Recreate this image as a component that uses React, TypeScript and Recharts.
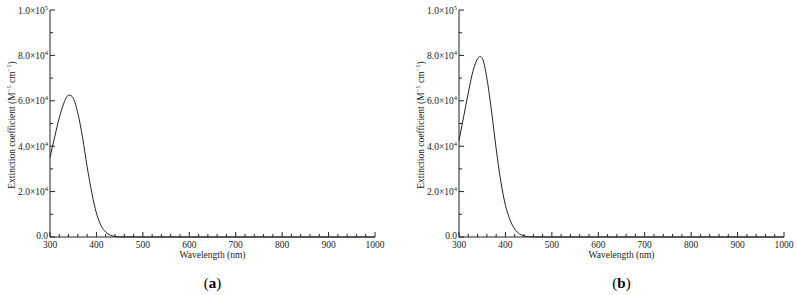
import React from 'react';
import { LineChart, Line, XAxis, YAxis } from 'recharts';

// wavelength grid (nm) and extinction coefficients (M^-1 cm^-1)
const wavelengths = [300, 310, 320, 330, 340, 345, 350, 360, 370, 380, 390, 400, 410, 420, 430, 440, 450, 460, 480, 500, 600, 700, 800, 900, 1000];
const epsilonA = [35000, 44000, 52500, 59000, 62500, 62300, 61200, 54500, 44000, 31000, 19500, 10500, 5000, 2200, 800, 250, 60, 10, 0, 0, 0, 0, 0, 0, 0];
const epsilonB = [42500, 53000, 63500, 73000, 78500, 79500, 78800, 70000, 55500, 39000, 24500, 14000, 7500, 3500, 1400, 500, 150, 30, 0, 0, 0, 0, 0, 0, 0];

const xTicks = Array.from({ length: 36 }, (_, i) => 300 + i * 20);
const yTicks = Array.from({ length: 11 }, (_, i) => i * 10000);
const panelLabels = ['a', 'b'];

const FONT = '"Liberation Serif", "Times New Roman", serif';
const INK = '#222';

const BottomTick = (props: any) => {
  const { x, y, payload } = props;
  const major = payload.value % 100 === 0;
  return (
    <g>
      <line x1={x} x2={x} y1={y} y2={y - (major ? 5 : 3)} stroke={INK} />
      {major && (
        <text x={x} y={y + 10.5} textAnchor="middle" fontSize={9.5} fontFamily={FONT} fill={INK}>
          {payload.value}
        </text>
      )}
    </g>
  );
};

const TopTick = (props: any) => {
  const { x, y, payload } = props;
  const major = payload.value % 100 === 0;
  return <line x1={x} x2={x} y1={y} y2={y + (major ? 5 : 3)} stroke={INK} />;
};

const LeftTick = (props: any) => {
  const { x, y, payload } = props;
  const v = payload.value;
  const major = v % 20000 === 0;
  let label: React.ReactNode = null;
  if (major) {
    if (v === 0) {
      label = '0.0';
    } else {
      const exp = Math.floor(Math.log10(v));
      const mant = (v / Math.pow(10, exp)).toFixed(1);
      label = (
        <>
          {mant}×10
          <tspan dy={-4} fontSize={6.5}>{exp}</tspan>
        </>
      );
    }
  }
  return (
    <g>
      <line x1={x} x2={x + (major ? 5 : 3)} y1={y} y2={y} stroke={INK} />
      {major && (
        <text x={x - 2} y={v === 0 ? y + 2 : y + 3.5} textAnchor="end" fontSize={9.5} fontFamily={FONT} fill={INK}>
          {label}
        </text>
      )}
    </g>
  );
};

const RightTick = (props: any) => {
  const { x, y, payload } = props;
  const major = payload.value % 20000 === 0;
  return <line x1={x} x2={x - (major ? 5 : 3)} y1={y} y2={y} stroke={INK} />;
};

const Panel = ({ values, label, left }: { values: number[]; label: string; left: number }) => {
  const data = wavelengths.map((w, i) => ({ wavelength: w, epsilon: values[i] }));
  return (
    <div style={{ position: 'absolute', left, top: 0, width: 390, height: 295 }}>
      <LineChart width={390} height={262} data={data} margin={{ top: 10, right: 15, bottom: 0, left: 0 }}>
        <XAxis
          xAxisId="bottom"
          dataKey="wavelength"
          type="number"
          domain={[300, 1000]}
          ticks={xTicks}
          interval={0}
          height={25}
          tickSize={0}
          tickMargin={0}
          tickLine={false}
          tick={<BottomTick />}
          axisLine={{ stroke: INK }}
        />
        <XAxis
          xAxisId="top"
          orientation="top"
          type="number"
          domain={[300, 1000]}
          ticks={xTicks}
          interval={0}
          height={0}
          tickSize={0}
          tickMargin={0}
          tickLine={false}
          tick={<TopTick />}
          axisLine={{ stroke: INK }}
        />
        <YAxis
          yAxisId="left"
          type="number"
          domain={[0, 100000]}
          ticks={yTicks}
          interval={0}
          width={50}
          tickSize={0}
          tickMargin={0}
          tickLine={false}
          tick={<LeftTick />}
          axisLine={{ stroke: INK }}
        />
        <YAxis
          yAxisId="right"
          orientation="right"
          type="number"
          domain={[0, 100000]}
          ticks={yTicks}
          interval={0}
          width={0}
          tickSize={0}
          tickMargin={0}
          tickLine={false}
          tick={<RightTick />}
          axisLine={{ stroke: INK }}
        />
        <Line
          xAxisId="bottom"
          yAxisId="left"
          type="monotone"
          dataKey="epsilon"
          stroke={INK}
          strokeWidth={1}
          dot={false}
          isAnimationActive={false}
        />
      </LineChart>
      <div
        style={{
          position: 'absolute',
          left: 12,
          top: 125,
          transform: 'translate(-50%, -50%) rotate(-90deg)',
          whiteSpace: 'nowrap',
          fontFamily: FONT,
          fontSize: 9.5,
          color: INK,
        }}
      >
        Extinction coefficient (M<span style={{ fontSize: 6.5, position: 'relative', top: -4 }}>−1</span>{' '}
        cm<span style={{ fontSize: 6.5, position: 'relative', top: -4 }}>−1</span>)
      </div>
      <div
        style={{
          position: 'absolute',
          left: 212.5,
          top: 255,
          transform: 'translate(-50%, -50%)',
          whiteSpace: 'nowrap',
          fontFamily: FONT,
          fontSize: 9.5,
          color: INK,
        }}
      >
        Wavelength (nm)
      </div>
      <div
        style={{
          position: 'absolute',
          left: 212.5,
          top: 283,
          transform: 'translate(-50%, -50%)',
          whiteSpace: 'nowrap',
          fontFamily: '"Palatino Linotype", "Liberation Serif", serif',
          fontSize: 15,
          color: '#000',
        }}
      >
        (<b>{label}</b>)
      </div>
    </div>
  );
};

export default function App() {
  return (
    <div style={{ position: 'absolute', left: 0, top: 0, width: 797, height: 295, background: '#fff' }}>
      <Panel values={epsilonA} label={panelLabels[0]} left={0} />
      <Panel values={epsilonB} label={panelLabels[1]} left={409} />
    </div>
  );
}
